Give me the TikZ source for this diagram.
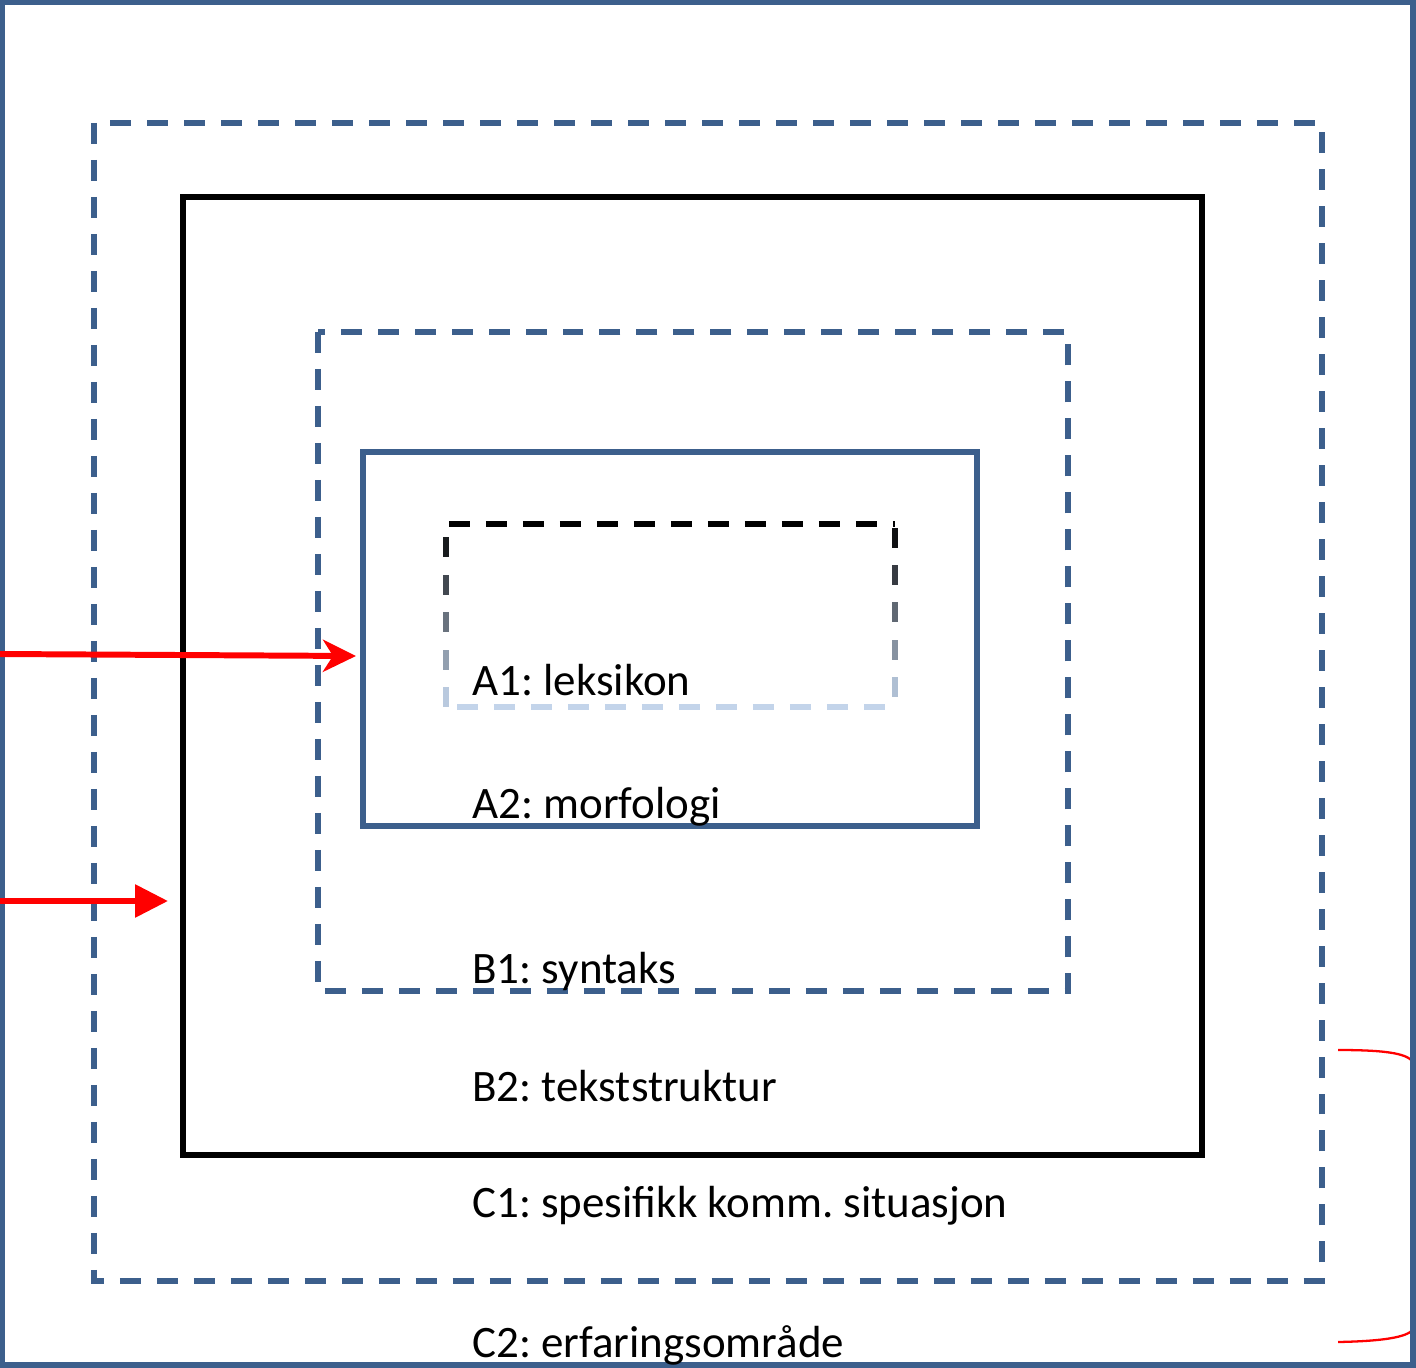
\documentclass[tikz,border=0pt]{standalone}
\usepackage{fontspec}
\setmainfont{Carlito}
\usepackage{tikz}
\usetikzlibrary{arrows.meta}
\definecolor{frameblue}{RGB}{60,95,140}
\definecolor{paleblue}{RGB}{195,212,234}
\frenchspacing

\begin{document}
\begin{tikzpicture}[
			x=0.02cm, y=-0.02cm,
			every node/.style={font=\fontsize{25.6}{30}\selectfont},
			%% Frame styles
			solidframe/.style={draw=frameblue, line width=3pt},
			dashframe/.style={draw=frameblue, line width=3pt,
				dash pattern=on 0.42cm off 0.32cm},
			blackframe/.style={draw=black, line width=3pt},
			lexdash/.style={line width=3pt, dash pattern=on 0.42cm off 0.32cm},
			%% Arrow styles
			arr/.style={draw=red, line width=3.4pt},
			%% Label style
			lbl/.style={anchor=base west, inner sep=0pt},
			]
			\useasboundingbox (0,0) rectangle (1416,1368);
			
			%% ── Red brace on the right (partly under the outer frame) ──────
			\coordinate (braceT) at (1338,1050);
			\coordinate (braceB) at (1338,1342);
			\draw[red, line width=1.3pt]
			(braceT) .. controls (1390,1050) and (1410,1054) .. (1414,1064)
			-- (1414,1328) .. controls (1410,1336) and (1390,1341) .. (braceB);
			\draw[red, line width=1.5pt] (0,1147) -- (4,1147);
			
			%% ── Frames (outside in) ────────────────────────────────────────
			\draw[solidframe] (2,2)     rectangle (1413,1365);   % C2
			\draw[dashframe]  (94,123)  rectangle (1322,1281);   % C1
			\draw[blackframe] (183,197) rectangle (1202,1155);   % B2
			\draw[dashframe]  (318,332) rectangle (1068,991);    % B1
			\draw[solidframe] (363,452) rectangle (977,826);     % A2
			
			%% A1: dashed box fading from black (top) to pale blue (bottom)
			\draw[lexdash, black]    (449,524) -- (895,524);
			\draw[lexdash, paleblue] (457,707) -- (895,707);
			\foreach \y in {537,575,612,650,687}{
				\pgfmathtruncatemacro{\pct}{100*(1-(\y+10-524)/183)}
				\draw[line width=3pt, black!\pct!paleblue] (446,\y) -- ++(0,20);
			}
			\foreach \y in {528,565,602,640,677}{
				\pgfmathtruncatemacro{\pct}{100*(1-(\y+10-524)/183)}
				\draw[line width=3pt, black!\pct!paleblue] (895,\y) -- ++(0,20);
			}
			
			%% ── Labels ────────────────────────────────────────────────────
			\node[lbl] (lex)   at (472,695)  {A1: leksikon};
			\node[lbl] (morf)  at (472,818)  {A2: morfologi};
			\node[lbl] (synt)  at (472,983)  {B1: syntaks};
			\node[lbl] (tekst) at (472,1101) {B2: tekststruktur};
			\node[lbl] (sit)   at (472,1217) {C1: spesifikk komm. situasjon};
			\node[lbl] (erf)   at (472,1357) {C2: erfaringsområde};
			
			%% ── Red arrows from the left edge ──────────────────────────────
			\coordinate (inA) at (0,654);
			\coordinate (tipA) at (356,656);
			\coordinate (inB) at (0,901);
			\coordinate (tipB) at (168,901);
			\draw[arr, -{Stealth[length=0.66cm, width=0.64cm, inset=0.2cm]}] (inA) -- (tipA);
			\draw[arr, -{Triangle[length=0.66cm, width=0.64cm]}] (inB) -- (tipB);
			
		\end{tikzpicture}
\end{document}
